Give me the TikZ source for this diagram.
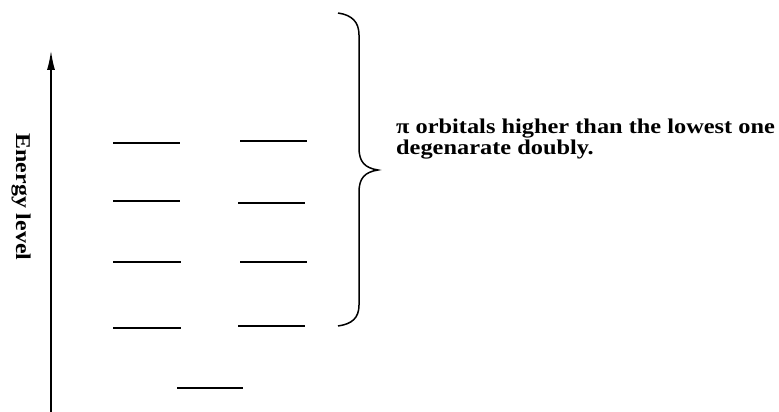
\documentclass[tikz,border=0pt]{standalone}
\usepackage{fontspec}
\usepackage{graphicx}
\setmainfont{Liberation Serif}
\usetikzlibrary{arrows.meta}
\begin{document}
\begin{tikzpicture}[x=1pt,y=-1pt,
  lvl/.style={line width=2pt},
  lab/.style={inner sep=0pt,font=\fontsize{21}{22}\selectfont\bfseries},
  bracestyle/.style={line width=1.5pt}]
\useasboundingbox (0,0) rectangle (779,412);
% axis
\coordinate (a0) at (51,412);
\coordinate (a1) at (51,50);
\draw[line width=2pt,-{Latex[length=20pt,width=8pt]}] (a0) -- (a1);
\node[lab,rotate=-90] (elab) at (21,197) {\scalebox{1.14}[1]{Energy level}};
% levels
\draw[lvl] (113,143) -- (180,143);
\draw[lvl] (240,141) -- (307,141);
\draw[lvl] (113,201) -- (180,201);
\draw[lvl] (238,203) -- (305,203);
\draw[lvl] (113,262) -- (181,262);
\draw[lvl] (240,262) -- (307,262);
\draw[lvl] (113,328) -- (181,328);
\draw[lvl] (238,326) -- (305,326);
\draw[lvl] (177,388) -- (243,388);
% brace
\draw[bracestyle] (338,13) .. controls (352,15) and (359,22) .. (359,35) -- (359,148)
  .. controls (359,162) and (365,168) .. (378,170)
  .. controls (365,172) and (359,178) .. (359,192) -- (359,305)
  .. controls (359,318) and (352,324) .. (338,326);
% text
\node[lab,anchor=base west] (t1) at (396,133) {\scalebox{1.16}[1]{π orbitals higher than the lowest one}};
\node[lab,anchor=base west] (t2) at (396,154) {\scalebox{1.16}[1]{degenarate doubly.}};
\end{tikzpicture}
\end{document}
